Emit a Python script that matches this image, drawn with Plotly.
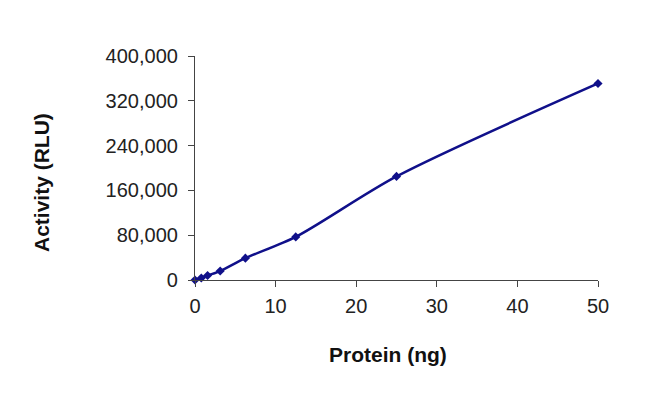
import plotly.graph_objects as go

protein_ng = [0, 0.78, 1.56, 3.125, 6.25, 12.5, 25, 50]
activity_rlu = [0, 3500, 8000, 16000, 39000, 77000, 185000, 351000]

x_ticks = [0, 10, 20, 30, 40, 50]
y_ticks = [0, 80000, 160000, 240000, 320000, 400000]

navy = '#10108a'

fig = go.Figure()
fig.add_trace(go.Scatter(
    x=protein_ng, y=activity_rlu,
    mode='lines+markers',
    line=dict(color=navy, width=2.5, shape='spline', smoothing=0.8),
    marker=dict(symbol='diamond', size=7, color=navy),
    cliponaxis=False,
    showlegend=False,
))

axis_font = dict(family='Liberation Sans, Arial, sans-serif', size=20, color='#222222')

fig.update_xaxes(
    range=[0, 50], tickvals=x_ticks, ticks='outside', ticklen=6, tickcolor='#444444',
    showline=True, linecolor='#444444', linewidth=1.2, showgrid=False, zeroline=False,
    tickfont=axis_font, ticklabelstandoff=2,
)
fig.update_yaxes(
    range=[0, 400000], tickvals=y_ticks, tickformat=',d', ticks='outside', ticklen=6,
    tickcolor='#444444', showline=True, linecolor='#444444', linewidth=1.2,
    showgrid=False, zeroline=False, tickfont=axis_font, ticklabelstandoff=6,
)

# axis titles as annotations so they sit where the original puts them
title_font = dict(family='Liberation Sans, Arial', size=21, color='#111111')
fig.add_annotation(text='<b>Protein (ng)</b>', xref='paper', yref='paper',
                   x=(387 - 194) / (597 - 194), y=-(353 - 279) / (279 - 55),
                   xanchor='center', yanchor='middle',
                   showarrow=False, font=title_font)
fig.add_annotation(text='<b>Activity (RLU)</b>', xref='paper', yref='paper',
                   x=-(194 - 40) / (597 - 194), y=(279 - 182) / (279 - 55),
                   xanchor='center', yanchor='middle',
                   textangle=-90, showarrow=False, font=title_font)

# the page adds an 8px body margin, so pull the plot area back by that much
fig.update_layout(
    width=650, height=412,
    margin=dict(l=187, r=60, t=48, b=140),
    plot_bgcolor='white', paper_bgcolor='white',
)

fig.write_html('out.html')
